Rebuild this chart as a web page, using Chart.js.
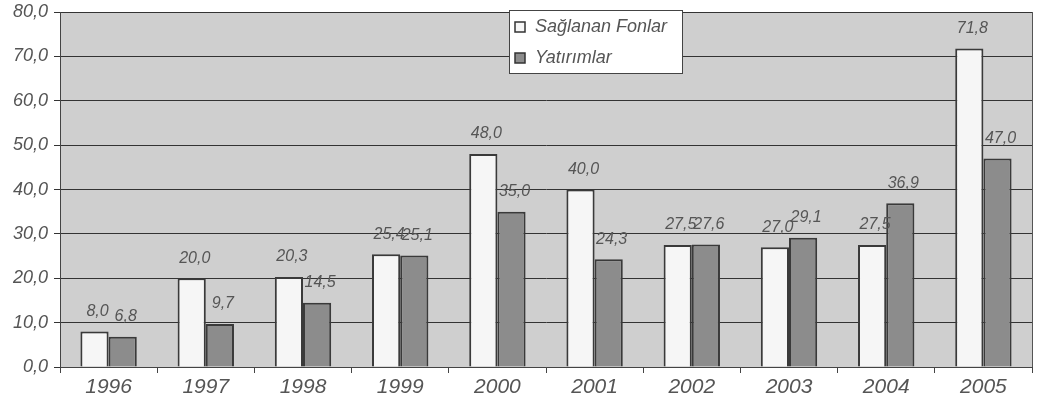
<!DOCTYPE html>
<html>
<head>
<meta charset="utf-8">
<script src="https://cdn.jsdelivr.net/npm/chart.js@4/dist/chart.umd.min.js"></script>
<style>
  html, body { margin: 0; padding: 0; background: #fff; overflow: hidden; }
  #wrap { width: 1042px; height: 412px; position: relative; }
</style>
</head>
<body>
<div id="wrap"><canvas id="chart" width="1042" height="412"></canvas></div>
<script>
const years = ["1996", "1997", "1998", "1999", "2000", "2001", "2002", "2003", "2004", "2005"];
const fonlar = [8.0, 20.0, 20.3, 25.4, 48.0, 40.0, 27.5, 27.0, 27.5, 71.8];
const yatirimlar = [6.8, 9.7, 14.5, 25.1, 35.0, 24.3, 27.6, 29.1, 36.9, 47.0];
const seriesNames = ["Sağlanan Fonlar", "Yatırımlar"];

const fmt = v => v.toFixed(1).replace(".", ",");

// gri zemin + sağ çerçeve
const plotBg = {
  id: "plotBg",
  beforeDraw(chart) {
    const { ctx, chartArea: a } = chart;
    ctx.save();
    ctx.fillStyle = "#cfcfcf";
    ctx.fillRect(a.left, a.top, a.right - a.left, a.bottom - a.top);
    ctx.restore();
  },
  afterDatasetsDraw(chart) {
    const { ctx, chartArea: a } = chart;
    ctx.save();
    ctx.strokeStyle = "#555";
    ctx.lineWidth = 1;
    ctx.beginPath();
    ctx.moveTo(a.right + 0.5, a.top);
    ctx.lineTo(a.right + 0.5, a.bottom);
    ctx.stroke();
    ctx.restore();
  }
};

// değer etiketleri
const valueLabels = {
  id: "valueLabels",
  afterDatasetsDraw(chart) {
    const ctx = chart.ctx;
    ctx.save();
    ctx.font = "italic 16px 'Liberation Sans', Arial, sans-serif";
    ctx.fillStyle = "#555";
    ctx.textAlign = "center";
    ctx.textBaseline = "bottom";
    chart.data.datasets.forEach((ds, i) => {
      chart.getDatasetMeta(i).data.forEach((bar, j) => {
        ctx.fillText(fmt(ds.data[j]), bar.x + 3, bar.y - 12);
      });
    });
    ctx.restore();
  }
};

// grafik içindeki lejant kutusu
const boxLegend = {
  id: "boxLegend",
  afterDraw(chart) {
    const ctx = chart.ctx;
    const x = 509, y = 10, w = 173, h = 63;
    ctx.save();
    ctx.fillStyle = "#fff";
    ctx.strokeStyle = "#444";
    ctx.lineWidth = 1;
    ctx.fillRect(x, y, w, h);
    ctx.strokeRect(x + 0.5, y + 0.5, w, h);
    ctx.font = "italic 18px 'Liberation Sans', Arial, sans-serif";
    ctx.textBaseline = "middle";
    ctx.textAlign = "left";
    chart.data.datasets.forEach((ds, i) => {
      const cy = y + 17 + i * 31;
      ctx.fillStyle = ds.backgroundColor;
      ctx.fillRect(x + 6, cy - 5, 10, 10);
      ctx.strokeStyle = "#333";
      ctx.lineWidth = 1.5;
      ctx.strokeRect(x + 6, cy - 5, 10, 10);
      ctx.fillStyle = "#555";
      ctx.fillText(ds.label, x + 26, cy);
    });
    ctx.restore();
  }
};

new Chart(document.getElementById("chart"), {
  type: "bar",
  data: {
    labels: years,
    datasets: [
      {
        label: seriesNames[0],
        data: fonlar,
        backgroundColor: "#f6f6f6",
        borderColor: "#3a3a3a",
        borderWidth: 2,
        borderSkipped: "bottom"
      },
      {
        label: seriesNames[1],
        data: yatirimlar,
        backgroundColor: "#8c8c8c",
        borderColor: "#3a3a3a",
        borderWidth: 2,
        borderSkipped: "bottom"
      }
    ]
  },
  options: {
    responsive: false,
    animation: false,
    devicePixelRatio: 1,
    layout: { padding: { top: 0, right: 10, left: 0, bottom: 0 } },
    datasets: {
      bar: { categoryPercentage: 0.58, barPercentage: 1.0 }
    },
    plugins: {
      legend: { display: false },
      tooltip: { enabled: false }
    },
    scales: {
      x: {
        offset: true,
        grid: {
          offset: true,
          drawOnChartArea: false,
          drawTicks: true,
          tickLength: 6,
          color: "#444"
        },
        border: { color: "#444", width: 1 },
        ticks: {
          color: "#555",
          padding: 2,
          maxRotation: 0,
          autoSkip: false,
          font: { family: "'Liberation Sans', Arial, sans-serif", size: 21, style: "italic" }
        },
        afterFit(scale) { scale.height = 45; }
      },
      y: {
        min: 0,
        max: 80,
        grid: {
          color: "#333",
          lineWidth: 1,
          tickLength: 6
        },
        border: { color: "#444", width: 1 },
        ticks: {
          stepSize: 10,
          color: "#555",
          padding: 6,
          autoSkip: false,
          font: { family: "'Liberation Sans', Arial, sans-serif", size: 18, style: "italic" },
          callback: v => fmt(v)
        },
        afterFit(scale) {
          scale.width = 60;
          scale.paddingTop = 12;
        }
      }
    }
  },
  plugins: [plotBg, valueLabels, boxLegend]
});
</script>
</body>
</html>
